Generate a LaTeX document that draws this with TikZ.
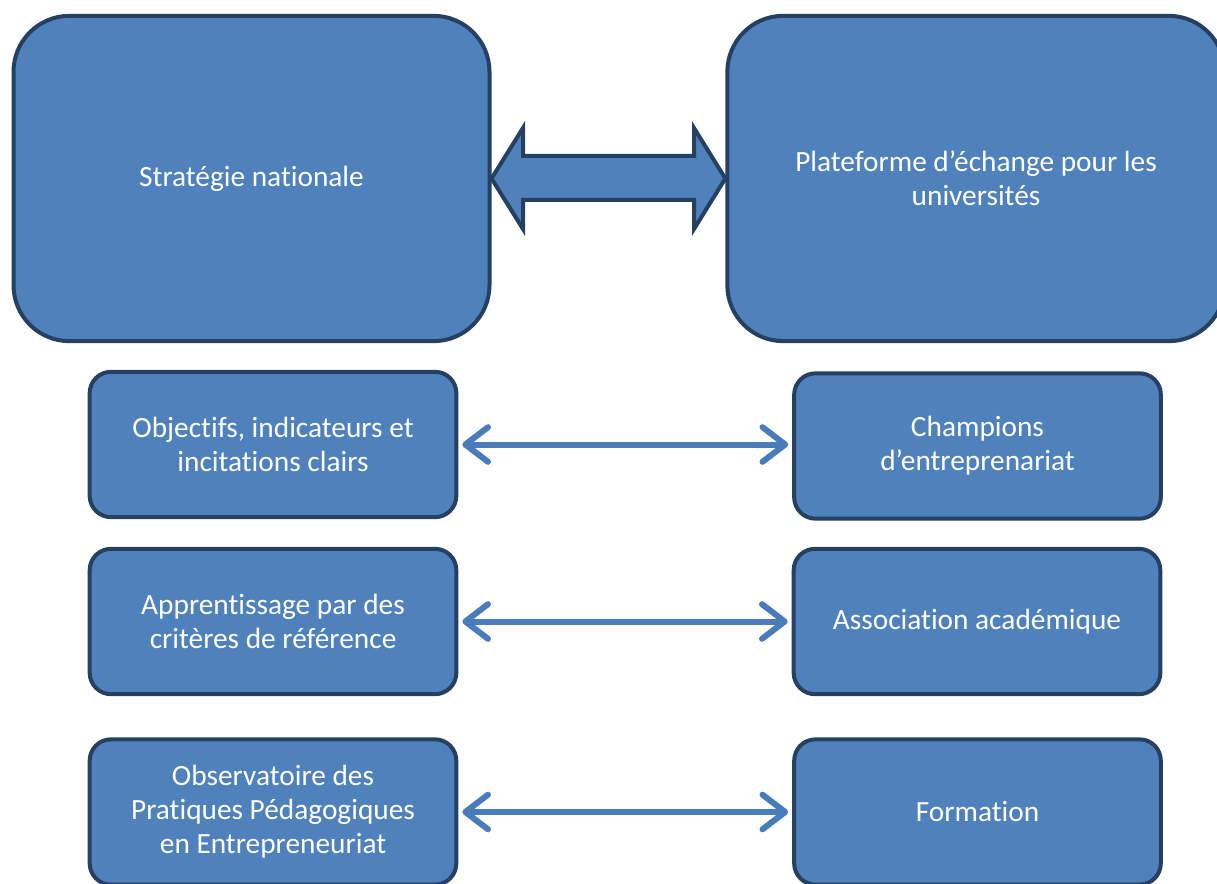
\documentclass[tikz,border=0pt]{standalone}
\usepackage{fontspec}
\setmainfont{Carlito}[Ligatures=NoCommon]
\usetikzlibrary{arrows.meta}
\definecolor{boxfill}{RGB}{79,129,189}
\definecolor{boxline}{RGB}{37,64,97}
\definecolor{linkblue}{RGB}{72,124,186}

\begin{document}
\begin{tikzpicture}[x=0.75pt,y=-0.75pt,
        bigbox/.style={draw=boxline,fill=boxfill,line width=3pt,rounded corners=42pt,
            minimum width=357pt,minimum height=244pt,text=white,align=center,
            font=\fontsize{22}{25.5}\selectfont},
        smallbox/.style={draw=boxline,fill=boxfill,line width=3pt,rounded corners=16pt,
            minimum width=275pt,minimum height=109pt,text=white,align=center,
            font=\fontsize{22}{25.5}\selectfont},
        link/.style={linkblue,line width=4.5pt,line cap=round,
            {Straight Barb[length=17pt,width=26pt,round]}-{Straight Barb[length=17pt,width=26pt,round]},
            shorten <=3pt,shorten >=3pt}]
    \useasboundingbox (0,0) rectangle (1217,884);
    % top row
    \node[bigbox] (strat) at (251.5,178.5) {Stratégie nationale};
    \node[bigbox,minimum width=373pt] (plat) at (976,178.5) {Plateforme d’échange pour les\\universités};
    \draw[draw=boxline,fill=boxfill,line width=3pt,line join=miter]
        (strat.east) -- (523,128) -- (523,156) -- (694,156) -- (694,128) -- (plat.west)
        -- (694,229) -- (694,200) -- (523,200) -- (523,229) -- cycle;
    % left column
    \node[smallbox] (obj) at (273,444.5) {Objectifs, indicateurs et\\incitations clairs};
    \node[smallbox] (app) at (273,621.5) {Apprentissage par des\\critères de référence};
    \node[smallbox] (obs) at (273,812) {Observatoire des\\Pratiques Pédagogiques\\en Entrepreneuriat};
    % right column
    \node[smallbox] (champ) at (977.5,446) {Champions\\d’entreprenariat};
    \node[smallbox] (assoc) at (977,621.5) {Association académique};
    \node[smallbox] (form) at (977.5,812) {Formation};
    % links
    \draw[link] (obj.east) -- (champ.west |- obj.east);
    \draw[link] (app.east) -- (assoc.west);
    \draw[link] (obs.east) -- (form.west);
\end{tikzpicture}
\end{document}
